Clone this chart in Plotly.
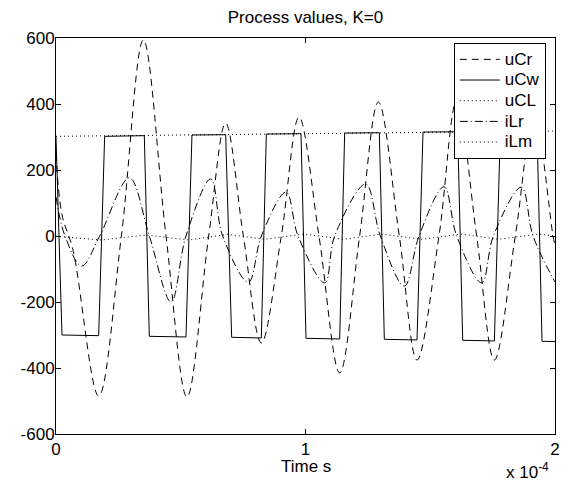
import plotly.graph_objects as go

# time in microseconds (axis shown in seconds, x 10^-4)
t_uCr = [0, 2.4, 6.8, 17.1, 26.2, 35.0, 44.1, 52.5, 61.2, 68.0, 75.1, 82.3, 90.3, 97.4,
         105.4, 113.7, 121.7, 129.2, 137.6, 144.7, 153.5, 160.6, 168.6, 175.7, 184.1,
         191.6, 199.2, 200]
v_uCr = [250, 64, -42, -485, 0, 594, 0, -488, 0, 342, 0, -324, 0, 360,
         0, -415, 0, 406, 0, -376, 0, 410, 0, -376, 0,
         365, 0, -30]

t_uCw = [0, 2.4, 17.1, 19.5, 35.4, 37.4, 52.1, 54.5, 68.0, 70.4, 82.3, 84.3, 98.2, 100.2,
         113.7, 115.7, 129.6, 131.6, 144.7, 147.1, 161.0, 163.0, 175.7, 178.1, 192.8,
         194.8, 200]
v_uCw = [300, -300, -302, 302, 304, -304, -306, 306, 307, -307, -309, 309, 310, -310,
         -312, 312, 313, -313, -315, 315, 316, -316, -318, 318, 319,
         -319, -320]

t_uCL = [0, 100, 200]
v_uCL = [302, 310, 318]

t_iLr = [0, 3.6, 10.3, 17.5, 29.4, 37.4, 46.1, 52.1, 62.0, 66.8, 77.1, 82.3, 92.2, 97.0,
         107.7, 111.7, 124.1, 130.0, 139.6, 145.5, 155.5, 160.6, 170.6, 175.3, 186.5,
         191.2, 200]
v_iLr = [118, 0, -91, 0, 176, 0, -200, 0, 173, 0, -140, 0, 133, 0,
         -142, 0, 157, 0, -152, 0, 149, 0, -142, 0, 148,
         0, -140]

t_iLm = [0, 18.3, 36.2, 53.3, 68.8, 83.5, 99.4, 115.3, 130.4, 146.7, 162.2, 177.3, 193.6, 200]
v_iLm = [-1, -12, 3, -12, 5, -10, 6, -10, 6, -10, 6, -10, 6, 0]

series_names = ["uCr", "uCw", "uCL", "iLr", "iLm"]

FONT = "Liberation Sans, Arial, Helvetica, sans-serif"
FS = 17

fig = go.Figure()


def add(name, t, v, dash, shape):
    fig.add_trace(go.Scatter(
        x=[ti * 1e-6 for ti in t], y=v, mode="lines",
        name="<span style='font-size:%dpx'>%s</span>" % (FS, name),
        line=dict(color="black", width=1, dash=dash, shape=shape)))


add(series_names[0], t_uCr, v_uCr, "7px,5px", "spline")
add(series_names[1], t_uCw, v_uCw, "solid", "linear")
add(series_names[2], t_uCL, v_uCL, "1px,3px", "linear")
add(series_names[3], t_iLr, v_iLr, "8px,3px,1px,3px", "spline")
add(series_names[4], t_iLm, v_iLm, "1px,3px", "linear")

axis_common = dict(
    showline=True, linecolor="black", linewidth=1, mirror="ticks",
    ticks="inside", ticklen=5, tickcolor="black", tickwidth=1,
    showgrid=False, zeroline=False,
    tickfont=dict(family=FONT, size=FS, color="black"),
)

fig.update_layout(
    width=572, height=481, autosize=False,
    margin=dict(l=56, r=13, t=38, b=47),
    paper_bgcolor="white", plot_bgcolor="white",
    font=dict(family=FONT, size=FS, color="black"),
    title=dict(text="Process values, K=0", x=0.5, xref="paper",
               y=1 - 17 / 481, yref="container", yanchor="middle",
               font=dict(family=FONT, size=FS, color="black")),
    xaxis=dict(range=[0, 2e-4], tickvals=[0, 1e-4, 2e-4], ticktext=["0", "1", "2"],
               **axis_common),
    yaxis=dict(range=[-600, 600], tickvals=[-600, -400, -200, 0, 200, 400, 600],
               ticktext=["-600", "-400", "-200", "0", "200", "400", "600"],
               ticklabelstandoff=-3,
               **axis_common),
    legend=dict(x=(457 - 56) / 503, y=(434 - 43) / 396, xanchor="left", yanchor="top",
                bordercolor="black", borderwidth=1, bgcolor="white",
                font=dict(family=FONT, size=13.6, color="black"), itemwidth=40),
    showlegend=True,
    annotations=[
        dict(text="Time s", x=0.5, xref="paper", y=(434 - 467) / 396, yref="paper",
             xanchor="center", yanchor="middle", showarrow=False,
             font=dict(family=FONT, size=FS, color="black")),
        dict(text="x 10<sup>-4</sup>", x=(531 - 56) / 503, xref="paper",
             y=(434 - 471) / 396, yref="paper", xanchor="center", yanchor="middle",
             showarrow=False, font=dict(family=FONT, size=FS, color="black")),
    ],
)

fig.write_html("out.html", config={"displayModeBar": False},
               post_script="document.body.style.margin='0';")
